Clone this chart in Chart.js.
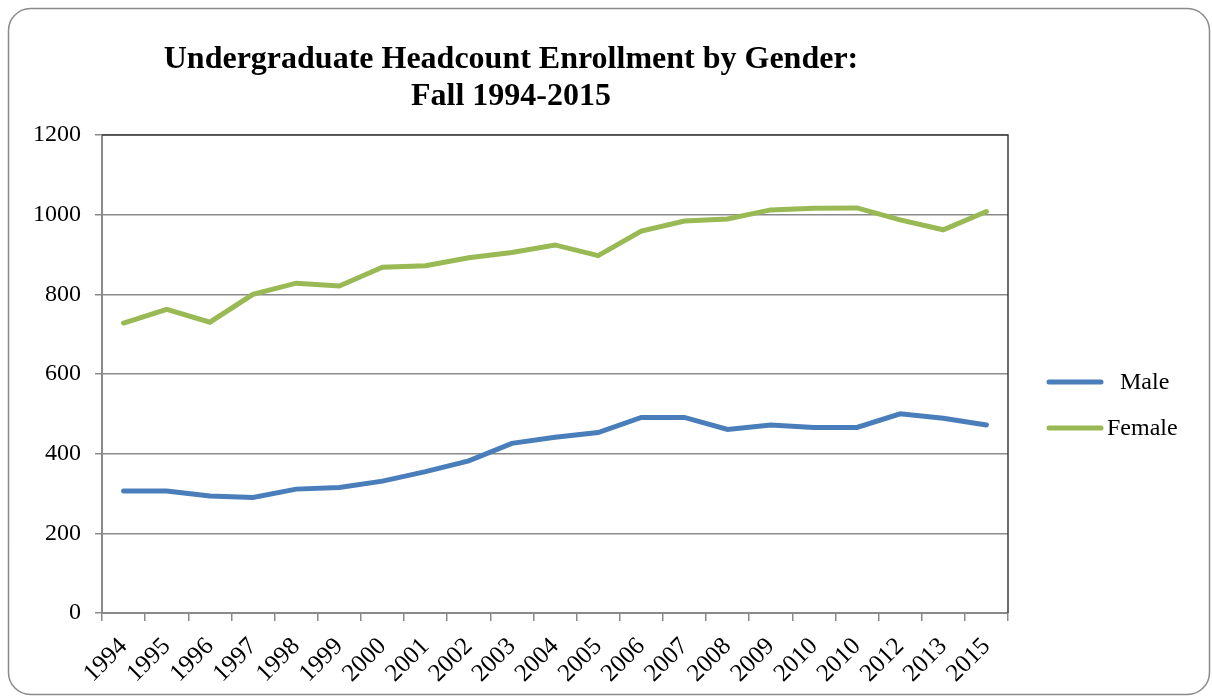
<!DOCTYPE html>
<html>
<head>
<meta charset="utf-8">
<script src="https://cdn.jsdelivr.net/npm/chart.js@4"></script>
<style>
  body { margin: 0; background: #fff; }
  #wrap { width: 1212px; height: 698px; }
</style>
</head>
<body>
<div id="wrap"><canvas id="enrollChart"></canvas></div>
<script>
const years = ["1994", "1995", "1996", "1997", "1998", "1999", "2000", "2001", "2002", "2003", "2004",
    "2005", "2006", "2007", "2008", "2009", "2010", "2010", "2012", "2013", "2015"];
const male = [306, 306, 294, 290, 311, 315, 331, 355, 382, 426, 441, 453, 491, 491, 461, 472, 466, 466, 500, 489, 472];
const female = [728, 762, 730, 800, 828, 821, 868, 872, 892, 905, 924, 897, 959, 984, 989, 1012, 1016, 1017, 987, 962, 1008];
const yTicks = [0, 200, 400, 600, 800, 1000, 1200];
const titleLines = ["Undergraduate Headcount Enrollment by Gender:", "Fall 1994-2015"];

const serif = "'Liberation Serif', 'Times New Roman', serif";

// frame, title, dark top/right border and legend
const decor = {
    id: "decor",
    beforeDraw(chart) {
        const ctx = chart.ctx;
        ctx.save();
        ctx.strokeStyle = "#8a8a8a";
        ctx.lineWidth = 1.5;
        ctx.beginPath();
        ctx.roundRect(8.5, 8.5, 1201, 686, 22);
        ctx.stroke();
        ctx.restore();
    },
    afterDraw(chart) {
        const ctx = chart.ctx;
        const a = chart.chartArea;
        ctx.save();
        ctx.strokeStyle = "#3c3c3c";
        ctx.lineWidth = 1.5;
        ctx.beginPath();
        ctx.moveTo(a.left, a.top);
        ctx.lineTo(a.right, a.top);
        ctx.lineTo(a.right, a.bottom);
        ctx.stroke();

        ctx.fillStyle = "#000";
        ctx.font = "bold 32px " + serif;
        ctx.textAlign = "center";
        ctx.textBaseline = "alphabetic";
        ctx.fillText(titleLines[0], 511, 68);
        ctx.fillText(titleLines[1], 511, 105);

        const items = chart.data.datasets;
        const textX = [1120, 1107];
        items.forEach((ds, i) => {
            const y = 382 + i * 46;
            ctx.strokeStyle = ds.borderColor;
            ctx.lineWidth = 5;
            ctx.lineCap = "round";
            ctx.beginPath();
            ctx.moveTo(1049, y);
            ctx.lineTo(1101, y);
            ctx.stroke();
            ctx.fillStyle = "#000";
            ctx.font = "24px " + serif;
            ctx.textAlign = "left";
            ctx.textBaseline = "middle";
            ctx.fillText(ds.label, textX[i], y + 1);
        });
        ctx.restore();
    }
};

new Chart(document.getElementById("enrollChart"), {
    type: "line",
    data: {
        labels: years,
        datasets: [
            { label: "Male", data: male, borderColor: "#4a7ebb", borderWidth: 5, pointRadius: 0, tension: 0, borderCapStyle: "round" },
            { label: "Female", data: female, borderColor: "#98b954", borderWidth: 5, pointRadius: 0, tension: 0, borderCapStyle: "round" }
        ]
    },
    options: {
        responsive: true,
        maintainAspectRatio: false,
        animation: false,
        layout: { padding: { top: 135, right: 204, left: 20, bottom: 5 } },
        plugins: { legend: { display: false }, tooltip: { enabled: false } },
        scales: {
            x: {
                offset: true,
                afterFit: (s) => { s.height = 80; },
                grid: { offset: true, drawOnChartArea: false, drawTicks: true, tickLength: 8, color: "#8a8a8a", lineWidth: 1.5 },
                border: { color: "#8a8a8a", width: 2 },
                ticks: { autoSkip: false, maxRotation: 45, minRotation: 45, color: "#000", padding: 11, font: { family: serif, size: 25 } }
            },
            y: {
                min: 0,
                max: 1200,
                afterFit: (s) => { s.width = 82; },
                afterBuildTicks: (s) => { s.ticks = yTicks.map(v => ({ value: v })); },
                grid: { color: "#8a8a8a", lineWidth: 1.5, tickLength: 7 },
                border: { color: "#8a8a8a", width: 2 },
                ticks: { color: "#000", padding: 14, font: { family: serif, size: 24 }, callback: (v) => String(v) }
            }
        }
    },
    plugins: [decor]
});
</script>
</body>
</html>
